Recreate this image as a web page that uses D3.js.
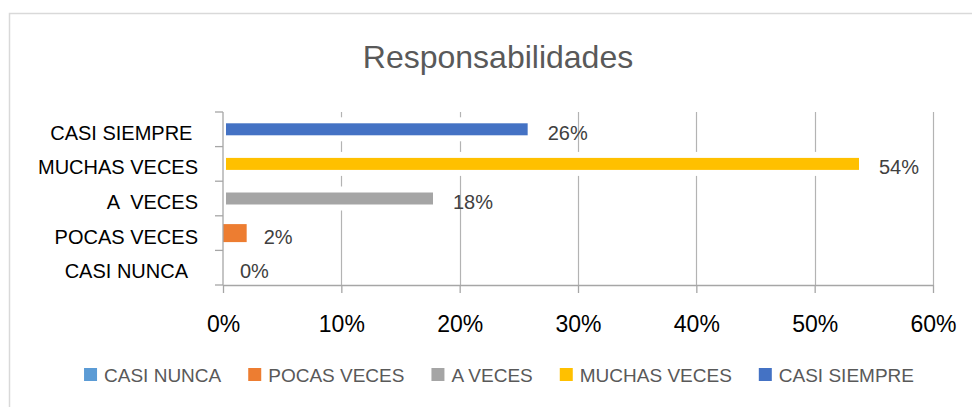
<!DOCTYPE html>
<html>
<head>
<meta charset="utf-8">
<script src="https://cdn.jsdelivr.net/npm/d3@7"></script>
<style>
  html, body { margin: 0; padding: 0; background: #fff; }
  svg { display: block; }
  text { font-family: "Liberation Sans", Arial, sans-serif; white-space: pre; }
</style>
</head>
<body>
<svg id="chart" width="972" height="407"></svg>
<script>
// ---- data ----
const title = "Responsabilidades";
const categories = ["CASI SIEMPRE ", "MUCHAS VECES", "A  VECES", "POCAS VECES", "CASI NUNCA  "]; // top to bottom
const values = [0.26, 0.54, 0.18, 0.02, 0.00];
const valueLabels = ["26%", "54%", "18%", "2%", "0%"];
const barColors = ["#4472C4", "#FFC000", "#A5A5A5", "#ED7D31", "#5B9BD5"];
const legendNames = ["CASI NUNCA", "POCAS VECES", "A VECES", "MUCHAS VECES", "CASI SIEMPRE"];
const legendColors = ["#5B9BD5", "#ED7D31", "#A5A5A5", "#FFC000", "#4472C4"];
const xTicks = [0, 0.1, 0.2, 0.3, 0.4, 0.5, 0.6];
const xTickLabels = ["0%", "10%", "20%", "30%", "40%", "50%", "60%"];

// ---- layout ----
const svg = d3.select("#chart");
const plot = { left: 223, right: 933, top: 112, bottom: 285 };

// outer chart border
svg.append("rect")
  .attr("x", 9.5).attr("y", 13.5).attr("width", 1000).attr("height", 500)
  .attr("fill", "none").attr("stroke", "#d9d9d9").attr("stroke-width", 1.5);

// title
svg.append("text")
  .attr("x", 498).attr("y", 68)
  .attr("text-anchor", "middle")
  .attr("font-size", 32)
  .attr("fill", "#595959")
  .text(title);

const x = d3.scaleLinear().domain([0, 0.6]).range([plot.left, plot.right]);
const y = d3.scaleBand().domain(categories).range([plot.top, plot.bottom]).paddingInner(0).paddingOuter(0);

// gridlines
svg.append("g").selectAll("line").data(xTicks.slice(1)).join("line")
  .attr("x1", d => Math.round(x(d)) + 0.5).attr("x2", d => Math.round(x(d)) + 0.5)
  .attr("y1", plot.top).attr("y2", plot.bottom)
  .attr("stroke", "#b3b3b3").attr("stroke-width", 1.2);

// bars
const barH = 18;
const rows = categories.map((c, i) => ({ c, v: values[i], color: barColors[i], label: valueLabels[i] }));
svg.append("g").selectAll("rect").data(rows.filter(d => d.v > 0)).join("rect")
  .attr("x", x(0))
  .attr("y", d => y(d.c) + y.bandwidth() / 2 - barH / 2)
  .attr("width", d => x(d.v) - x(0))
  .attr("height", barH)
  .attr("fill", d => d.color)
  .attr("stroke", d => d.c === "POCAS VECES" ? "none" : "#ffffff")
  .attr("stroke-width", 6);

// x axis
const xAxis = d3.axisBottom(x).tickValues(xTicks).tickSize(8).tickSizeOuter(0)
  .tickFormat((d, i) => xTickLabels[i]).tickPadding(23);
const gx = svg.append("g").attr("transform", `translate(0,${plot.bottom})`).call(xAxis);
gx.select(".domain").attr("stroke", "#a6a6a6").attr("stroke-width", 1.3);
gx.selectAll(".tick line").attr("stroke", "#a6a6a6").attr("stroke-width", 1.3);
gx.selectAll(".tick text").attr("font-size", 23).attr("fill", "#000")
  .attr("font-family", "Liberation Sans, Arial, sans-serif");

// y axis line and boundary ticks
svg.append("line")
  .attr("x1", plot.left).attr("x2", plot.left)
  .attr("y1", plot.top).attr("y2", plot.bottom)
  .attr("stroke", "#a6a6a6").attr("stroke-width", 1.3);
const bounds = categories.map(c => y(c)).concat([plot.bottom]);
svg.append("g").selectAll("line").data(bounds).join("line")
  .attr("x1", plot.left - 8).attr("x2", plot.left)
  .attr("y1", d => d).attr("y2", d => d)
  .attr("stroke", "#a6a6a6").attr("stroke-width", 1.3);

// category labels
svg.append("g").selectAll("text").data(categories).join("text")
  .attr("x", 198)
  .attr("y", d => y(d) + y.bandwidth() / 2 + 10.5)
  .attr("text-anchor", "end")
  .attr("font-size", 20)
  .attr("fill", "#000")
  .text(d => d);

// data labels
svg.append("g").selectAll("text").data(rows).join("text")
  .attr("x", d => x(d.v) + 17)
  .attr("y", d => y(d.c) + y.bandwidth() / 2 + 10.5)
  .attr("font-size", 20)
  .attr("fill", "#404040")
  .text(d => d.label);

// legend
const lg = svg.append("g");
const items = lg.selectAll("g").data(legendNames).join("g");
items.append("rect").attr("width", 13).attr("height", 13).attr("y", 368)
  .attr("fill", (d, i) => legendColors[i]);
items.append("text").attr("x", 20).attr("y", 382)
  .attr("font-size", 19).attr("fill", "#595959").text(d => d);
const widths = [];
items.each(function() { widths.push(20 + d3.select(this).select("text").node().getComputedTextLength()); });
const gap = 27;
const total = d3.sum(widths) + gap * (widths.length - 1);
let cx = 499 - total / 2;
items.each(function(d, i) {
  d3.select(this).attr("transform", `translate(${cx},0)`);
  cx += widths[i] + gap;
});
</script>
</body>
</html>
